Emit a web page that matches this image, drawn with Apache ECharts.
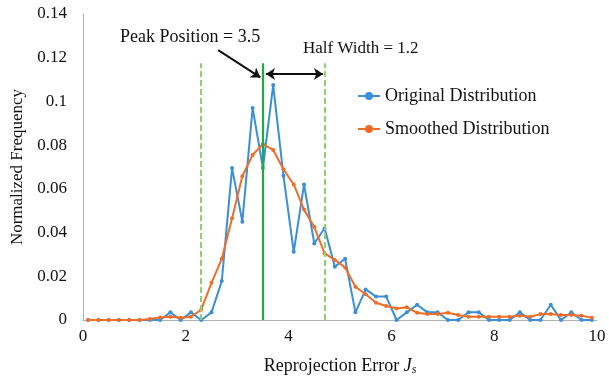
<!DOCTYPE html>
<html>
<head>
<meta charset="utf-8">
<script src="https://cdn.jsdelivr.net/npm/echarts@6/dist/echarts.min.js"></script>
<style>html,body{margin:0;padding:0;background:#fff;}#c{width:609px;height:376px;}</style>
</head>
<body>
<div id="c"></div>
<script>
// Bin centres (Reprojection Error J_s)
var xValues = [0.1,0.3,0.5,0.7,0.9,1.1,1.3,1.5,1.7,1.9,2.1,2.3,2.5,2.7,2.9,3.1,3.3,3.5,3.7,3.9,4.1,4.3,4.5,4.7,4.9,5.1,5.3,5.5,5.7,5.9,6.1,6.3,6.5,6.7,6.9,7.1,7.3,7.5,7.7,7.9,8.1,8.3,8.5,8.7,8.9,9.1,9.3,9.5,9.7,9.9];
var originalValues = [0,0,0,0,0,0,0,0,0.0035,0,0.0035,0,0.0035,0.0178,0.0695,0.045,0.097,0.0695,0.1075,0.066,0.0312,0.062,0.035,0.042,0.0244,0.028,0.0035,0.014,0.0107,0.0107,0,0.0035,0.007,0.0035,0.0035,0,0,0.0035,0.0035,0,0,0,0.0035,0,0,0.007,0,0.0035,0,0];
var smoothedValues = [0,0,0,0,0,0,0.0005,0.0012,0.0015,0.001,0.0015,0.0047,0.017,0.028,0.0465,0.0658,0.0755,0.0805,0.0778,0.069,0.062,0.0505,0.0425,0.0305,0.0275,0.024,0.0152,0.0118,0.0079,0.0064,0.0053,0.0058,0.0033,0.0027,0.0027,0.0033,0.0023,0.0015,0.0015,0.0015,0.0015,0.0015,0.002,0.0015,0.0027,0.0027,0.0023,0.0023,0.002,0.001];
var peakPosition = 3.5;
var halfWidth = 1.2;
var markerTop = 0.1175;
var seriesNames = ['Original Distribution', 'Smoothed Distribution'];
var xTicks = [0, 2, 4, 6, 8, 10];
var yTicks = [0, 0.02, 0.04, 0.06, 0.08, 0.1, 0.12, 0.14];

function pairs(xs, ys) { return xs.map(function (x, i) { return [x, ys[i]]; }); }

var FONT = '"Liberation Serif", "Times New Roman", serif';
var chart = echarts.init(document.getElementById('c'), null, {renderer: 'canvas'});
chart.setOption({
  animation: false,
  textStyle: {fontFamily: FONT},
  grid: {left: 83, right: 12, top: 14, bottom: 56, containLabel: false, outerBoundsMode: 'none'},
  legend: {
    orient: 'vertical', left: 352, top: 82, itemGap: 15,
    itemWidth: 22, itemHeight: 10,
    textStyle: {fontFamily: FONT, fontSize: 18, color: '#111'},
    data: seriesNames
  },
  xAxis: {
    type: 'value', min: xTicks[0], max: xTicks[xTicks.length - 1], interval: 2,
    axisLine: {lineStyle: {color: '#b0b0b0', width: 1}},
    axisTick: {show: false}, splitLine: {show: false},
    axisLabel: {fontFamily: FONT, fontSize: 17, color: '#111', margin: 8},
    name: '{a|Reprojection Error }{i|J}{s|s}', nameLocation: 'middle', nameGap: 36,
    nameTextStyle: {
      rich: {
        a: {fontFamily: FONT, fontSize: 18, color: '#111'},
        i: {fontFamily: FONT, fontSize: 18, fontStyle: 'italic', color: '#111'},
        s: {fontFamily: FONT, fontSize: 12, fontStyle: 'italic', color: '#111', verticalAlign: 'bottom', padding: [8, 0, 0, 0]}
      }
    }
  },
  yAxis: {
    type: 'value', min: yTicks[0], max: yTicks[yTicks.length - 1], interval: 0.02,
    axisLine: {show: true, lineStyle: {color: '#b0b0b0', width: 1}},
    axisTick: {show: false}, splitLine: {show: false},
    axisLabel: {fontFamily: FONT, fontSize: 17, color: '#111', margin: 16},
    name: 'Normalized Frequency', nameLocation: 'middle', nameGap: 57,
    nameTextStyle: {fontFamily: FONT, fontSize: 17, color: '#111'}
  },
  series: [
    {
      name: seriesNames[0], type: 'line', data: pairs(xValues, originalValues),
      symbol: 'circle', symbolSize: 4, color: '#3a8fd8',
      lineStyle: {width: 2, color: '#3a8fd8'}, itemStyle: {color: '#3a8fd8'},
      markLine: {
        silent: true, symbol: ['none', 'none'], label: {show: false},
        data: [
          [{coord: [peakPosition, 0], lineStyle: {color: '#1faa4a', width: 2.2, type: 'solid'}}, {coord: [peakPosition, markerTop]}],
          [{coord: [peakPosition - halfWidth, 0], lineStyle: {color: '#8fd070', width: 2, type: [6, 3]}}, {coord: [peakPosition - halfWidth, markerTop]}],
          [{coord: [peakPosition + halfWidth, 0], lineStyle: {color: '#8fd070', width: 2, type: [6, 3]}}, {coord: [peakPosition + halfWidth, markerTop]}]
        ]
      }
    },
    {
      name: seriesNames[1], type: 'line', data: pairs(xValues, smoothedValues),
      symbol: 'circle', symbolSize: 4, color: '#f06d28',
      lineStyle: {width: 2, color: '#f06d28'}, itemStyle: {color: '#f06d28'},
      markLine: {
        silent: true, label: {show: false}, symbolSize: 9,
        lineStyle: {color: '#111', width: 2, type: 'solid'},
        data: [
          [{coord: [2.63, 0.1235], symbol: 'none'}, {coord: [peakPosition - 0.05, 0.111], symbol: 'arrow'}],
          [{coord: [peakPosition + 0.06, 0.1125], symbol: 'arrow'}, {coord: [peakPosition + halfWidth - 0.03, 0.1125], symbol: 'arrow'}]
        ]
      }
    }
  ],
  graphic: [
    {type: 'text', left: 120, top: 28, style: {text: 'Peak Position = ' + peakPosition, font: '18px ' + FONT, fill: '#111'}},
    {type: 'text', left: 303, top: 40, style: {text: 'Half Width = ' + halfWidth, font: '17px ' + FONT, fill: '#111'}}
  ]
});
</script>
</body>
</html>
